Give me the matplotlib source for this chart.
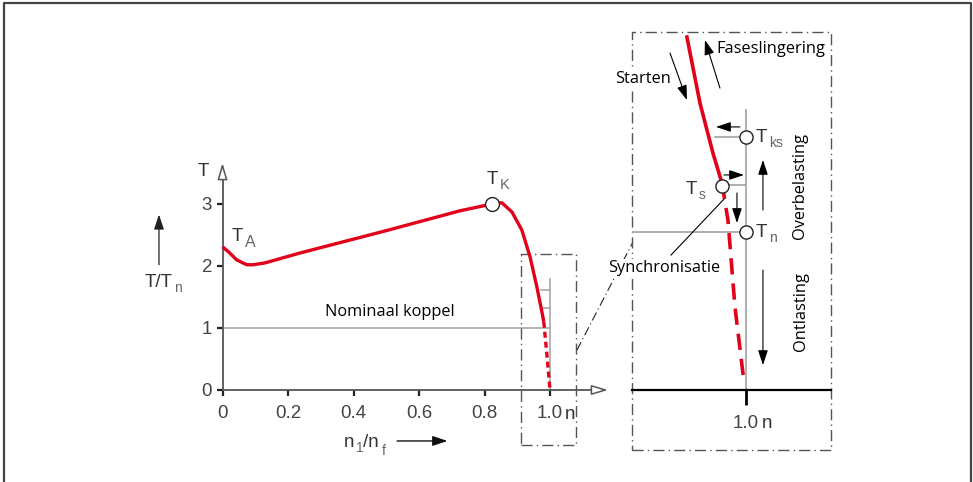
import matplotlib
matplotlib.use("Agg")
import matplotlib.pyplot as plt
from matplotlib.patches import Rectangle
from matplotlib.lines import Line2D

# torque curve T/Tn against n1/nf
curve_x = [0, 0.02, 0.043, 0.074, 0.094, 0.13, 0.237, 0.5, 0.725, 0.823, 0.853, 0.884, 0.914, 0.939, 0.960, 0.976, 0.981]
curve_y = [2.31, 2.22, 2.10, 2.02, 2.02, 2.05, 2.21, 2.57, 2.89, 3.0, 3.02, 2.87, 2.58, 2.15, 1.66, 1.24, 1.10]
dash_x = [0.981, 0.990, 1.0]
dash_y = [1.10, 0.60, 0.0]
tk_point = (0.823, 3.0)

xticks = [0, 0.2, 0.4, 0.6, 0.8, 1.0]
xtick_labels = ["0", "0.2", "0.4", "0.6", "0.8", "1.0"]
yticks = [0, 1, 2, 3]

# detail near synchronous speed
zoom_x = [0.9344, 0.9489, 0.9633, 0.9733]
zoom_y = [2.234, 1.816, 1.500, 1.310]
zoom_dash_x = [0.9733, 0.980, 0.9878, 0.9978]
zoom_dash_y = [1.310, 1.076, 0.525, 0.051]
t_ks = 1.60
t_s = 1.30
t_n = 1.0

RED = "#e2001a"
GREY = "#555555"
LIGHT = "#a8a8a8"
DASHDOT = (0, (8, 3, 1, 3))
NUM_FONT = "Liberation Sans"
WORD_FONT = "Open Sans"
WSIZE = 11.8


def sym(axis, x, y, main, sub, size=13.5, subsize=10, drop=-3, ha="left", color="#333333"):
    # symbol with a small grey subscript right behind it
    t = axis.text(x, y, main, fontsize=size, color=color, ha=ha, va="center", fontfamily=NUM_FONT)
    s = axis.annotate(sub, xy=(1, 0), xycoords=t, xytext=(1, drop), textcoords="offset points",
                      fontsize=subsize, color="#666666", ha="left", va="bottom", fontfamily=NUM_FONT)
    return t, s


fig = plt.figure(figsize=(9.73, 4.82), dpi=100)

# main chart, axes covers the whole figure
ax = fig.add_axes([0, 0, 1, 1])
ax.set_xlim(-0.6794, 2.2916)
ax.set_ylim(-1.4839, 6.290)
ax.patch.set_visible(False)
for s in ["top", "right"]:
    ax.spines[s].set_visible(False)
ax.spines["left"].set_position(("data", 0))
ax.spines["bottom"].set_position(("data", 0))
ax.spines["left"].set_bounds(0, 3.45)
ax.spines["bottom"].set_bounds(0, 1.14)
for s in ["left", "bottom"]:
    ax.spines[s].set_color(GREY)
    ax.spines[s].set_linewidth(1.3)
ax.set_xticks(xticks)
ax.set_xticklabels(xtick_labels, fontfamily=NUM_FONT)
ax.set_yticks(yticks)
ax.set_yticklabels([str(v) for v in yticks], fontfamily=NUM_FONT)
ax.tick_params(length=4.5, width=1.6, color="#222222", labelsize=13.5, labelcolor="#444444")
ax.tick_params(axis="x", pad=6)
ax.tick_params(axis="y", pad=3)

# open arrow heads on the axes
head = dict(arrowstyle="-|>,head_length=1.0,head_width=0.3", fc="white", ec=GREY, lw=1.1, shrinkA=0, shrinkB=0)
ax.annotate("", xy=(0, 3.66), xytext=(0, 3.40), arrowprops=head)
ax.annotate("", xy=(1.177, 0), xytext=(1.13, 0), arrowprops=head)

# nominal torque line and detail markings
ax.plot([0, 1.0], [1, 1], color=LIGHT, lw=1.2, zorder=1)
ax.plot([1.0, 1.0], [0, 1.79], color=LIGHT, lw=1.2, zorder=1)
ax.plot([0.9725, 1.0], [1.61, 1.61], color=LIGHT, lw=1.2, zorder=1)
ax.plot([0.9725, 1.0], [1.32, 1.32], color=LIGHT, lw=1.2, zorder=1)

ax.plot(curve_x, curve_y, color=RED, lw=2.4, solid_capstyle="butt", zorder=3)
ax.plot(dash_x, dash_y, color=RED, lw=2.4, dashes=(1.8, 1.2), zorder=3)
ax.plot(*tk_point, "o", ms=10, mfc="white", mec="#222222", mew=1.0, zorder=4)

ax.add_patch(Rectangle((0.911, -0.89), 0.168, 3.08, fill=False, ec=GREY, lw=1.0, ls=DASHDOT))
ax.plot([1.0824, 1.2534], [0.645, 2.387], color="#222222", lw=0.8, ls=DASHDOT)

ax.text(-0.0595, 3.52, "T", fontsize=13.5, color="#333333", ha="center", va="center", fontfamily=NUM_FONT)
ax.annotate("", xy=(-0.194, 2.83), xytext=(-0.194, 2.02),
            arrowprops=dict(arrowstyle="-|>,head_length=0.9,head_width=0.3", color="#222222", lw=0.9, shrinkA=0, shrinkB=0))
sym(ax, -0.237, 1.74, "T/T", "n")
sym(ax, 0.029, 2.48, "T", "A", subsize=11.5, drop=-4, color="#333333")
sym(ax, 0.808, 3.39, "T", "K", subsize=10.5)
ax.text(0.512, 1.25, "Nominaal koppel", fontsize=WSIZE, color="black", ha="center", va="center", fontfamily=WORD_FONT)
ax.text(1.062, -0.40, "n", fontsize=13.5, color="#333333", ha="center", va="center", fontfamily=NUM_FONT)
t1, s1 = sym(ax, 0.37, -0.84, "n", "1", subsize=10)
t2 = ax.annotate("/n", xy=(1, 0), xycoords=s1, xytext=(0, 3), textcoords="offset points", fontsize=13.5,
                 color="#333333", ha="left", va="bottom", fontfamily=NUM_FONT)
ax.annotate("f", xy=(1, 0), xycoords=t2, xytext=(2, -5), textcoords="offset points", fontsize=10,
            color="#666666", ha="left", va="bottom", fontfamily=NUM_FONT)
ax.annotate("", xy=(0.687, -0.822), xytext=(0.533, -0.822),
            arrowprops=dict(arrowstyle="-|>,head_length=0.9,head_width=0.3", color="#111111", lw=1.0, shrinkA=0, shrinkB=0))

# outer frame (open at the bottom)
fig.add_artist(Line2D([0.0041, 0.0041, 0.998, 0.998], [0, 0.9938, 0.9938, 0], transform=fig.transFigure,
                      color="#444444", lw=1.6))

# detail panel
az = fig.add_axes([0.6495, 0.0664, 0.2045, 0.8672])
az.set_xlim(0.87333, 1.09444)
az.set_ylim(-0.3797, 2.2658)
az.patch.set_visible(False)
for s in ["top", "left", "right"]:
    az.spines[s].set_visible(False)
az.spines["bottom"].set_position(("data", 0))
az.spines["bottom"].set_color("black")
az.spines["bottom"].set_linewidth(1.6)
az.set_yticks([])
az.set_xticks([1.0])
az.set_xticklabels(["1.0"], fontfamily=NUM_FONT)
az.tick_params(axis="x", length=11, width=2, color="black", labelsize=13.5, labelcolor="#444444", pad=7)
az.add_patch(Rectangle((0, 0), 1, 1, transform=az.transAxes, fill=False, ec=GREY, lw=1.0, ls=DASHDOT,
                       clip_on=False, zorder=1))
az.text(1.0235, -0.215, "n", fontsize=13.5, color="#333333", ha="center", va="center", fontfamily=NUM_FONT)

az.plot([1.0, 1.0], [0, 1.772], color=LIGHT, lw=1.3, zorder=1)
az.plot([0.9656, 1.0], [t_ks, t_ks], color=LIGHT, lw=1.3, zorder=1)
az.plot([0.98, 1.0], [t_s, t_s], color=LIGHT, lw=1.3, zorder=1)
az.plot([0.87333, 1.0], [t_n, t_n], color=LIGHT, lw=1.3, zorder=1)

az.plot(zoom_x, zoom_y, color=RED, lw=2.6, zorder=3)
az.plot(zoom_dash_x, zoom_dash_y, color=RED, lw=2.6, dashes=(4.5, 2.5), zorder=3)
az.plot([1.0, zoom_x[-1], 1.0], [t_ks, t_s - 0.01, t_n], "o", ms=9.5, mfc="white", mec="#222222", mew=1.0, zorder=4)

arr = dict(arrowstyle="-|>,head_length=0.9,head_width=0.3", color="black", lw=0.8, shrinkA=0, shrinkB=0)
az.annotate("", xy=(0.9344, 1.835), xytext=(0.9156, 2.133), arrowprops=arr)
az.annotate("", xy=(0.9544, 2.215), xytext=(0.9711, 1.911), arrowprops=arr)
az.annotate("", xy=(0.9667, 1.665), xytext=(0.9933, 1.665), arrowprops=arr)
az.annotate("", xy=(0.9978, 1.361), xytext=(0.9756, 1.361), arrowprops=arr)
az.annotate("", xy=(0.99, 1.057), xytext=(0.99, 1.247), arrowprops=arr)
az.annotate("", xy=(1.0189, 1.456), xytext=(1.0189, 1.139), arrowprops=arr)
az.annotate("", xy=(1.0189, 0.158), xytext=(1.0189, 0.759), arrowprops=arr)
az.plot([0.9167, 0.9767], [0.854, 1.215], color="black", lw=0.8, zorder=2)

box = dict(fc="white", ec="none", pad=1.0)
az.text(0.9667, 2.158, "Faseslingering", fontsize=WSIZE, ha="left", va="center", fontfamily=WORD_FONT, zorder=5)
az.text(0.8856, 1.968, "Starten", fontsize=WSIZE, ha="center", va="center", fontfamily=WORD_FONT,
        bbox=box, clip_on=False, zorder=5)
az.text(0.9089, 0.772, "Synchronisatie", fontsize=WSIZE, ha="center", va="center", fontfamily=WORD_FONT,
        bbox=box, clip_on=False, zorder=5)
az.text(1.0600, 1.29, "Overbelasting", fontsize=WSIZE, rotation=90, ha="center", va="center", fontfamily=WORD_FONT)
az.text(1.0610, 0.50, "Ontlasting", fontsize=WSIZE, rotation=90, ha="center", va="center", fontfamily=WORD_FONT)

sym(az, 1.0111, t_ks, "T", "ks")
sym(az, 0.9333, 1.27, "T", "s")
sym(az, 1.0111, t_n, "T", "n")

fig.savefig("out.png", dpi=100)
